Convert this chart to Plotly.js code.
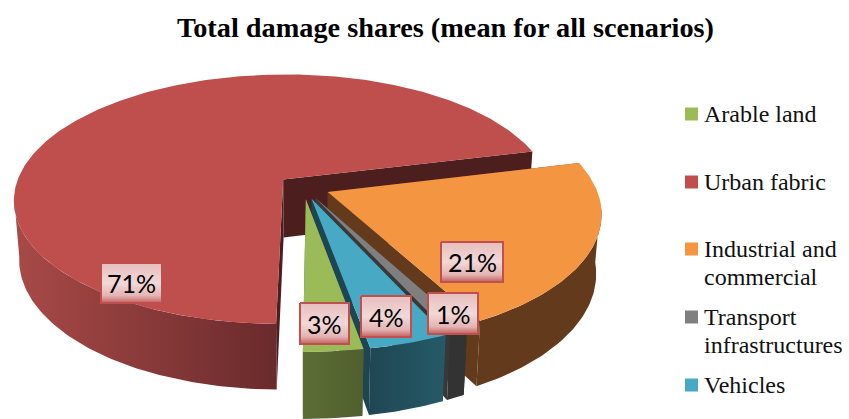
<!DOCTYPE html>
<html>
<head>
<meta charset="utf-8">
<script src="https://cdn.plot.ly/plotly-3.0.1.min.js"></script>
<style>html,body{margin:0;padding:0;background:#fff}#chart{width:849px;height:419px}</style>
</head>
<body>
<div id="chart"></div>
<script>
// Damage shares, clockwise from the first slice
const categories = ['Arable land', 'Urban fabric', 'Industrial and<br>commercial', 'Transport<br>infrastructures', 'Vehicles'];
const shares = [3, 71, 21, 1, 4];
const topColors = ['#9BBB59', '#BE4F4C', '#F49541', '#7F7F7F', '#47A9C4'];
const faceColors = ['#56672F', '#4D1E1E', '#643A1C', '#383838', '#1D4552'];
const wallLeft = ['#5C6E35', '#A84A47', '#643A1C', '#333333', '#1F4653'];
const wallRight = ['#4F5F2E', '#6A2A2C', '#643A1C', '#333333', '#265A67'];

// Where each percentage tag sits, in chart pixels
const tagBoxes = [[300, 349, 303, 344], [101, 162, 263, 303], [441, 503, 242, 282], [428, 478, 293, 334], [361, 411, 296, 337]];
const tagBorders = ['#C0504D', '#BE4F4C', '#C0504D', '#C0504D', '#C0504D'];
const legendY = [114, 182, 249, 317, 385];
const legendLineGap = 28;

// Perspective pie: a unit circle on a tilted disc with a given thickness
const view = {cx: 303.6, cy: 187, ax: 268, ay: 124, persp: 0.159, thick: 59.5, shrink: 0.018, explode: 0.098, first: 169.8};
const rad = d => d * Math.PI / 180;

function project(u, v, z) {
  const w = 1 + view.persp * v + view.shrink * z;
  return [view.cx + view.ax * u / w, view.cy + (-view.ay * v + view.thick * z) / w];
}

function slicePoint(mid, angle, r, z) {
  const u = view.explode * Math.sin(rad(mid)) + r * Math.sin(rad(angle));
  const v = view.explode * Math.cos(rad(mid)) + r * Math.cos(rad(angle));
  return project(u, v, z);
}

function arc(mid, a, b, z) {
  const pts = [];
  const n = Math.max(2, Math.ceil(Math.abs(b - a)));
  for (let i = 0; i <= n; i++) pts.push(slicePoint(mid, a + (b - a) * i / n, 1, z));
  return pts;
}

function polygon(pts, color, gradient, line) {
  const xs = pts.map(p => p[0]).concat(pts[0][0]);
  const ys = pts.map(p => p[1]).concat(pts[0][1]);
  const t = {
    x: xs, y: ys, type: 'scatter', mode: 'lines', fill: 'toself', fillcolor: color,
    line: line || {width: 0, color: color}, hoverinfo: 'skip', showlegend: false
  };
  if (gradient) t.fillgradient = gradient;
  return t;
}

// Slice boundaries in degrees clockwise from the far side of the disc
let cursor = view.first;
const slices = shares.map((s, i) => {
  const start = cursor;
  const end = cursor + s * 3.6;
  cursor = end;
  return {i, start, end, mid: (start + end) / 2};
});

function sliceTraces(s) {
  const out = [];
  const m = s.mid;
  const centerTop = slicePoint(m, 0, 0, 0);
  const centerBottom = slicePoint(m, 0, 0, 1);
  // Cut faces
  [s.start, s.end].forEach(edge => {
    out.push(polygon([centerTop, slicePoint(m, edge, 1, 0), slicePoint(m, edge, 1, 1), centerBottom], faceColors[s.i]));
  });
  // Outer wall: the part of the rim that faces the viewer
  for (let k = -360; k <= 360; k += 360) {
    const a = Math.max(s.start + k, 95);
    const b = Math.min(s.end + k, 262);
    if (b > a) {
      const wall = arc(m, a, b, 0).concat(arc(m, b, a, 1));
      const grad = {type: 'horizontal', colorscale: [[0, wallLeft[s.i]], [1, wallRight[s.i]]]};
      out.push(polygon(wall, faceColors[s.i], grad));
    }
  }
  // Top surface
  out.push(polygon([centerTop].concat(arc(m, s.start, s.end, 0)), topColors[s.i]));
  return out;
}

// Painted from the back of the scene to the front
const paintOrder = [1, 2, 3, 4, 0];
let traces = [];
paintOrder.forEach(i => { traces = traces.concat(sliceTraces(slices[i])); });

// Percentage tags
const tagGradient = {type: 'vertical', colorscale: [[0, '#C25F5D'], [0.18, '#E3B4B3'], [0.5, '#F2D8D8'], [1, '#E7BDBD']]};
const annotations = [];
shares.forEach((s, i) => {
  const [x0, x1, y0, y1] = tagBoxes[i];
  traces.push(polygon([[x0, y0], [x1, y0], [x1, y1], [x0, y1]], '#F2D8D8', tagGradient, {width: 2, color: tagBorders[i]}));
  annotations.push({
    x: (x0 + x1) / 2, y: (y0 + y1) / 2, xref: 'x', yref: 'y', text: s + '%', showarrow: false,
    font: {family: 'Lato, sans-serif', size: 25, color: '#000'}
  });
});

// Key on the right: two-line names are set line by line to hold the leading
traces.push({
  x: categories.map(() => 691.5), y: legendY, type: 'scatter', mode: 'markers',
  marker: {symbol: 'square', size: 13, color: topColors}, hoverinfo: 'skip', showlegend: false
});
categories.forEach((c, i) => {
  c.split('<br>').forEach((line, j) => {
    annotations.push({
      x: 702, y: legendY[i] + j * legendLineGap, xref: 'x', yref: 'y', xanchor: 'left', align: 'left', text: line, showarrow: false,
      font: {family: '"Liberation Serif", serif', size: 24, color: '#111'}
    });
  });
});

const hidden = {visible: false, fixedrange: true};
const layout = {
  width: 849, height: 419, margin: {l: 0, r: 0, t: 0, b: 0},
  paper_bgcolor: '#fff', plot_bgcolor: '#fff', showlegend: false,
  title: {
    text: '<b>Total damage shares (mean for all scenarios)</b>',
    x: 0.5247, xanchor: 'center', y: 0.936, yanchor: 'middle',
    font: {family: '"Liberation Serif", serif', size: 28.3, color: '#000'}
  },
  xaxis: Object.assign({range: [0, 849]}, hidden),
  yaxis: Object.assign({range: [419, 0]}, hidden),
  annotations
};
Plotly.newPlot('chart', traces, layout, {displayModeBar: false, staticPlot: true});
</script>
</body>
</html>
